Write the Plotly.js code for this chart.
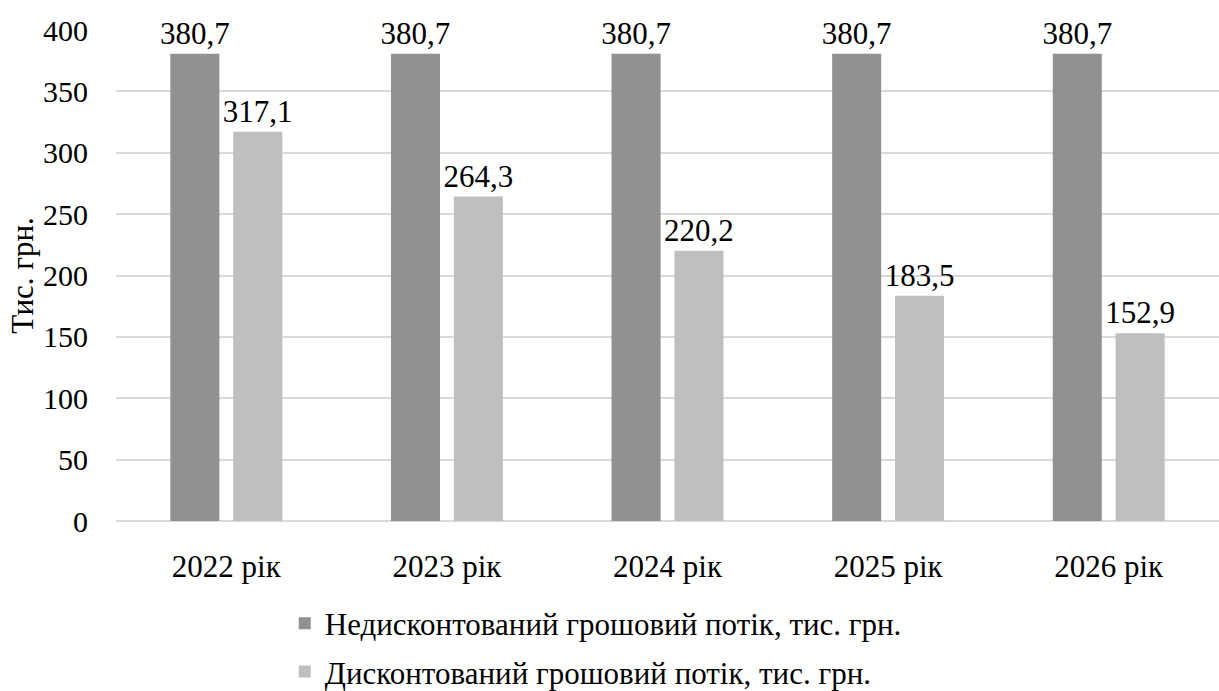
<!DOCTYPE html>
<html>
<head>
<meta charset="utf-8">
<script src="https://cdn.plot.ly/plotly-3.0.1.min.js"></script>
<style>
  html, body { margin: 0; padding: 0; background: #ffffff; }
  #chart { width: 1219px; height: 691px; }
</style>
</head>
<body>
<div id="chart"></div>
<script>
const categories = ["2022 рік", "2023 рік", "2024 рік", "2025 рік", "2026 рік"];
const undiscounted = [380.7, 380.7, 380.7, 380.7, 380.7];
const discounted = [317.1, 264.3, 220.2, 183.5, 152.9];
const seriesNames = ["Недисконтований грошовий потік, тис. грн.", "Дисконтований грошовий потік, тис. грн."];
const yTicks = [0, 50, 100, 150, 200, 250, 300, 350, 400];
const yAxisTitle = "Тис. грн.";

const fmt = v => v.toFixed(1).replace('.', ',');
const FONT = "'Liberation Serif', 'Times New Roman', serif";

const traces = [
  {
    type: 'bar', name: seriesNames[0], x: categories, y: undiscounted,
    text: undiscounted.map(fmt), textposition: 'outside', cliponaxis: false,
    constraintext: 'none',
    textfont: {family: FONT, size: 31, color: '#000'},
    marker: {color: '#919191'}, legendgroup: 'a', hoverinfo: 'none'
  },
  {
    type: 'bar', name: seriesNames[1], x: categories, y: discounted,
    text: discounted.map(fmt), textposition: 'outside', cliponaxis: false,
    constraintext: 'none',
    textfont: {family: FONT, size: 31, color: '#000'},
    marker: {color: '#bfbfbf'}, legendgroup: 'b', hoverinfo: 'none'
  }
];

const layout = {
  width: 1219, height: 691,
  margin: {l: 116, r: 0, t: 30, b: 170, autoexpand: false},
  paper_bgcolor: '#fff', plot_bgcolor: '#fff',
  font: {family: FONT, size: 31, color: '#000'},
  barmode: 'group', bargap: 0.43, bargroupgap: 0.22,
  showlegend: true,
  legend: {
    orientation: 'v', x: 0.153, xanchor: 'left', y: -0.154, yanchor: 'top',
    traceorder: 'grouped', tracegroupgap: 5,
    font: {family: FONT, size: 31, color: '#000'}
  },
  xaxis: {
    type: 'category', showgrid: false, zeroline: false,
    showline: false, ticks: '', ticklabelstandoff: 24,
    tickfont: {family: FONT, size: 31, color: '#000'}, automargin: false
  },
  yaxis: {
    range: [0, 400], tickvals: yTicks, ticktext: yTicks.map(String),
    showgrid: true, gridcolor: '#d9d9d9', gridwidth: 2,
    zeroline: true, zerolinecolor: '#d9d9d9', zerolinewidth: 2,
    showline: false, ticks: '', ticklabelstandoff: 27,
    tickfont: {family: FONT, size: 30, color: '#000'},
    title: {text: yAxisTitle, standoff: 0, font: {family: FONT, size: 31, color: '#000'}},
    automargin: false
  }
};

Plotly.newPlot('chart', traces, layout, {displayModeBar: false, staticPlot: true});
</script>
</body>
</html>
